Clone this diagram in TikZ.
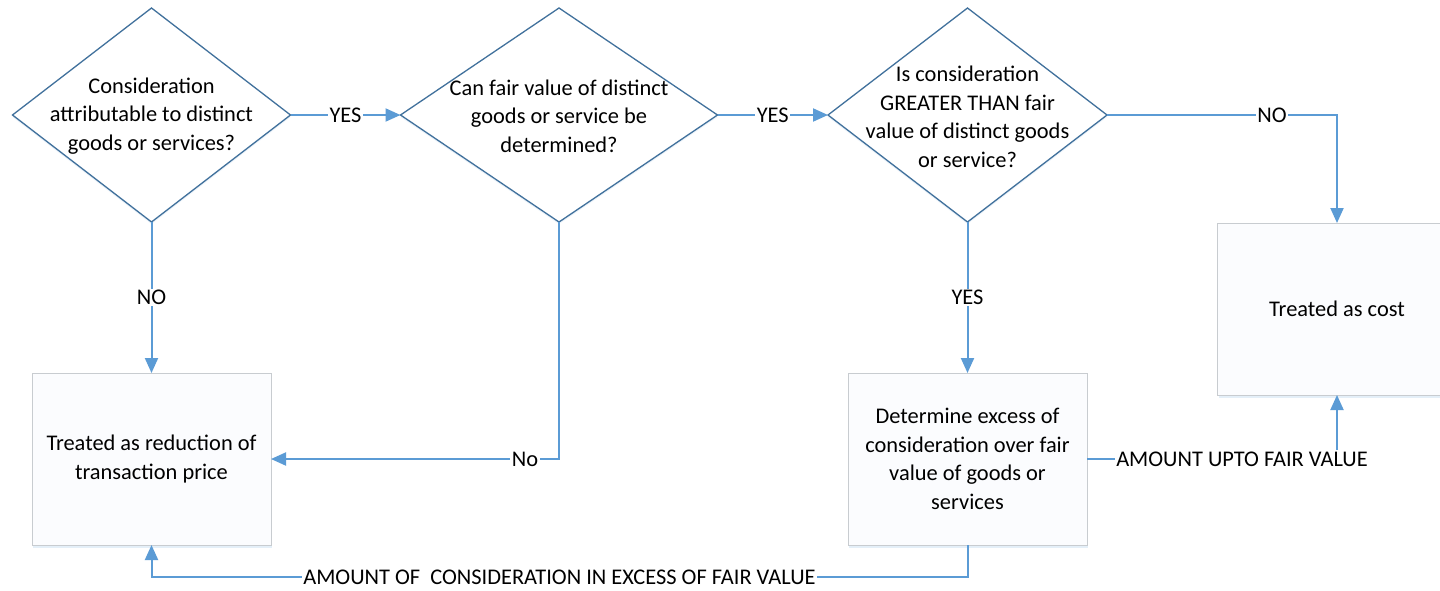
\documentclass[tikz,border=0pt]{standalone}
\usepackage{fontspec}
\setmainfont{Carlito}
\usetikzlibrary{shapes.geometric,arrows.meta,shadows}
\definecolor{cblue}{HTML}{5B9BD5}
\definecolor{diaedge}{HTML}{41719C}
\definecolor{boxedge}{HTML}{C8CCD0}
\definecolor{boxfill}{HTML}{FBFCFE}
\begin{document}
\begin{tikzpicture}[x=1pt,y=-1pt,
  font=\fontsize{22.4}{28.5}\selectfont,
  dia/.style={diamond, draw=diaedge, line width=1.3pt, fill=white, inner sep=0pt, outer sep=0pt,
    drop shadow={shadow xshift=0pt, shadow yshift=-2pt, fill=cblue!35, opacity=0.35}},
  dtext/.style={align=center, inner sep=0pt},
  procbox/.style={rectangle, draw=boxedge, line width=0.8pt, fill=boxfill, minimum width=239pt,
    minimum height=172pt, align=center, inner sep=0pt, outer sep=0pt,
    drop shadow={shadow xshift=1pt, shadow yshift=-3pt, fill=cblue!40, opacity=0.4}},
  link/.style={draw=cblue, line width=2pt, -{Triangle[length=15pt,width=13pt]}},
  lbl/.style={fill=white, inner sep=1.5pt, text=black}]
\useasboundingbox (0,0) rectangle (1440,590);
\clip (0,0) rectangle (1440,590);
\fill[white] (0,0) rectangle (1440,590);

% decision diamonds
\node[dia, minimum width=278pt, minimum height=214pt] (d1) at (151.5,115) {};
\node[dtext] (t1) at (151.5,116) {Consideration\\attributable to distinct\\goods or services?};
\node[dia, minimum width=317pt, minimum height=214pt] (d2) at (559,115) {};
\node[dtext] (t2) at (559,116) {Can fair value of distinct\\goods or service be\\determined?};
\node[dia, minimum width=279pt, minimum height=214pt] (d3) at (967.5,115) {};
\node[dtext] (t3) at (967.5,117) {Is consideration\\GREATER THAN fair\\value of distinct goods\\or service?};

% process boxes
\node[procbox] (b1) at (151.5,459) {Treated as reduction of\\transaction price};
\node[procbox] (b2) at (967.5,459) {Determine excess of\\consideration over fair\\value of goods or\\services};
\node[procbox] (b3) at (1337,309) {Treated as cost};

% connectors
\draw[link] (d1.east) -- node[lbl]{YES} (d2.west);
\draw[link] (d2.east) -- node[lbl]{YES} (d3.west);
\draw[link] (d3.east) -- node[lbl, pos=0.717]{NO} (d3.east -| b3.north) -- (b3.north);
\draw[link] (d1.south) -- node[lbl]{NO} (b1.north);
\draw[link] (d3.south) -- node[lbl]{YES} (b2.north);
\draw[link] (d2.south) -- (d2.south |- b1.east) -- node[lbl, pos=0.118]{No} (b1.east);
\draw[link] (b2.east) -- node[lbl, pos=0.62]{AMOUNT UPTO FAIR VALUE} (b2.east -| b3.south) -- (b3.south);
\coordinate (bot) at (967.5,577);
\draw[link] (b2.south) -- (bot) -- node[lbl, pos=0.5]{AMOUNT OF \ CONSIDERATION IN EXCESS OF FAIR VALUE} (bot -| b1.south) -- (b1.south);
\end{tikzpicture}
\end{document}
